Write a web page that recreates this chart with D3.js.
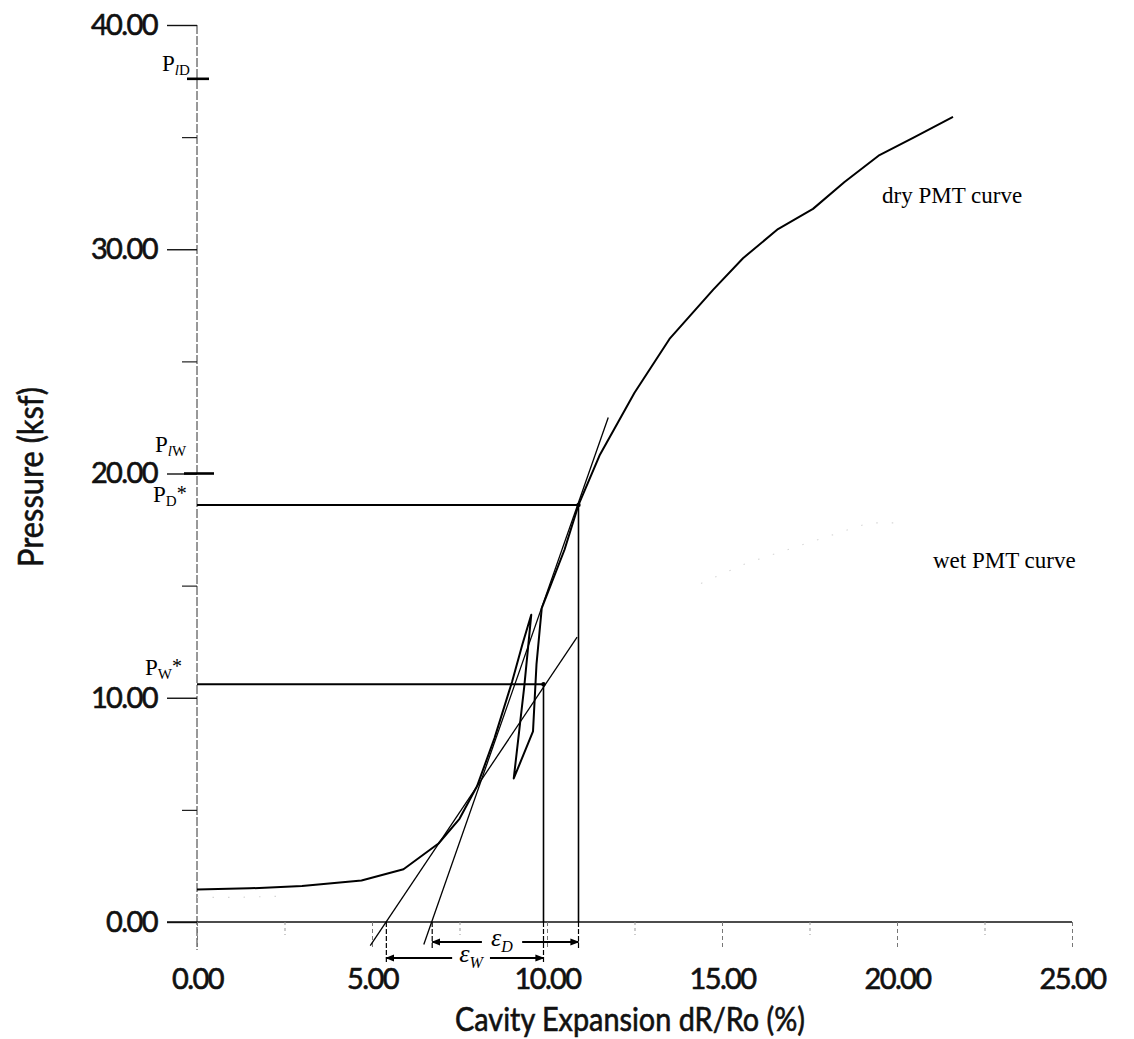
<!DOCTYPE html>
<html>
<head>
<meta charset="utf-8">
<script src="https://cdn.jsdelivr.net/npm/d3@7"></script>
<style>
  html, body { margin: 0; padding: 0; background: #fff; }
  svg { display: block; }
</style>
</head>
<body>
<svg id="chart" width="1134" height="1039"></svg>
<script>
// Pressuremeter test (PMT) curve: pressure vs. cavity expansion
const dryExpansion = [0, 1.5, 3.0, 4.7, 5.9, 6.9, 7.5, 8.0, 8.5, 9.0, 9.3, 9.55,
  9.35, 9.05, 9.6, 9.7, 9.85, 10.1, 10.5, 10.9, 11.5, 12.5, 13.5, 14.75, 15.6,
  16.6, 17.6, 18.5, 19.5, 20.5, 21.6];
const dryPressure = [1.45, 1.5, 1.6, 1.85, 2.35, 3.5, 4.6, 6.05, 8.2, 10.7, 12.4, 13.7,
  10.5, 6.4, 8.5, 11.5, 14.0, 15.0, 16.6, 18.6, 20.8, 23.6, 26.0, 28.2, 29.6,
  30.9, 31.8, 33.0, 34.2, 35.0, 35.9];

// faint traces of the wet curve (gaps where nothing is visible)
const wetExpansion = [0, 1.2, 2.4, null, 14.4, 15.7, 19.2, 20.1];
const wetPressure  = [1.1, 1.1, 1.15, null, 15.1, 16.0, 17.8, 17.8];

// tangent construction lines (expansion, pressure)
const dryTangentX = [6.48, 11.75];
const dryTangentP = [-1.0, 22.5];
const wetTangentX = [4.95, 10.86];
const wetTangentP = [-1.05, 12.7];

// characteristic pressures
const pStarDry = 18.6, xStarDry = 10.9;
const pStarWet = 10.6, xStarWet = 9.9;
const pLimitDry = 37.6, pLimitWet = 20.0;

// strain intervals (tangent intercept -> P* expansion)
const epsDry = [6.72, 10.9];
const epsWet = [5.41, 9.9];

const xMajorTicks = [0, 5, 10, 15, 20, 25];
const xMinorTicks = [2.5, 7.5, 12.5, 17.5, 22.5];
const yMajorTicks = [0, 10, 20, 30, 40];
const yMinorTicks = [5, 15, 25, 35];

const xTitle = "Cavity Expansion dR/Ro (%)";
const yTitle = "Pressure (ksf)";
const dryLabel = "dry PMT curve";
const wetLabel = "wet PMT curve";

const svg = d3.select("#chart");
const x = d3.scaleLinear().domain([0, 25]).range([197, 1072]);
const y = d3.scaleLinear().domain([0, 40]).range([922, 25]);

const sans = "Lato, 'Open Sans', sans-serif";
const serif = "'Liberation Serif', 'DejaVu Serif', serif";
const fmt = d3.format(".2f");

// arrowhead marker
const defs = svg.append("defs");
defs.append("marker")
  .attr("id", "arrow")
  .attr("viewBox", "0 0 10 10")
  .attr("refX", 9).attr("refY", 5)
  .attr("markerWidth", 9).attr("markerHeight", 9)
  .attr("markerUnits", "userSpaceOnUse")
  .attr("orient", "auto-start-reverse")
  .append("path").attr("d", "M0,1 L10,5 L0,9 Z").attr("fill", "#000");

// ---------- axes ----------
const y0 = y(0);

// y axis line (thin, broken) running slightly below zero
svg.append("line")
  .attr("x1", x(0)).attr("x2", x(0))
  .attr("y1", y(40)).attr("y2", y0 + 28)
  .attr("stroke", "#333").attr("stroke-width", 1)
  .attr("stroke-dasharray", "9,2");

const yAxis = svg.append("g").attr("transform", `translate(${x(0)},0)`)
  .call(d3.axisLeft(y).tickValues(yMajorTicks).tickSize(30).tickPadding(10).tickFormat(fmt));
yAxis.select(".domain").remove();
yAxis.selectAll(".tick line").attr("stroke", "#111").attr("stroke-width", 1.4);
yAxis.selectAll(".tick text")
  .attr("font-family", sans).attr("font-size", 29).attr("letter-spacing", -1.6)
  .attr("fill", "#111").attr("stroke", "#111").attr("stroke-width", 0.6);

const yMinor = svg.append("g").attr("transform", `translate(${x(0)},0)`)
  .call(d3.axisLeft(y).tickValues(yMinorTicks).tickSize(15).tickFormat(""));
yMinor.select(".domain").remove();
yMinor.selectAll(".tick line").attr("stroke", "#222").attr("stroke-width", 1.2);

// x axis line
svg.append("line")
  .attr("x1", x(0) - 30).attr("x2", x(25))
  .attr("y1", y0).attr("y2", y0)
  .attr("stroke", "#111").attr("stroke-width", 1.6);

const xAxis = svg.append("g").attr("transform", `translate(0,${y0})`)
  .call(d3.axisBottom(x).tickValues(xMajorTicks).tickSize(26).tickPadding(20).tickFormat(fmt));
xAxis.select(".domain").remove();
xAxis.selectAll(".tick line").attr("stroke", "#777").attr("stroke-width", 1)
  .attr("stroke-dasharray", "4,3");
xAxis.selectAll(".tick text")
  .attr("font-family", sans).attr("font-size", 29).attr("letter-spacing", -1.6)
  .attr("fill", "#111").attr("stroke", "#111").attr("stroke-width", 0.6);

const xMinor = svg.append("g").attr("transform", `translate(0,${y0})`)
  .call(d3.axisBottom(x).tickValues(xMinorTicks).tickSize(13).tickFormat(""));
xMinor.select(".domain").remove();
xMinor.selectAll(".tick line").attr("stroke", "#999").attr("stroke-width", 1)
  .attr("stroke-dasharray", "3,3");

// axis titles
svg.append("text")
  .attr("x", 455).attr("y", 1031)
  .attr("font-family", sans).attr("font-size", 32)
  .attr("textLength", 350).attr("lengthAdjust", "spacingAndGlyphs")
  .attr("fill", "#111").attr("stroke", "#111").attr("stroke-width", 0.6)
  .text(xTitle);

svg.append("text")
  .attr("transform", "translate(43,567) rotate(-90)")
  .attr("font-family", sans).attr("font-size", 34)
  .attr("textLength", 180).attr("lengthAdjust", "spacingAndGlyphs")
  .attr("fill", "#111").attr("stroke", "#111").attr("stroke-width", 0.6)
  .text(yTitle);

// ---------- curves ----------
const dryData = dryExpansion.map((d, i) => [d, dryPressure[i]]);
const wetData = wetExpansion.map((d, i) => [d, wetPressure[i]]);

const line = d3.line()
  .defined(d => d[0] !== null && d[1] !== null)
  .x(d => x(d[0])).y(d => y(d[1]));

svg.append("path").datum(wetData)
  .attr("d", line)
  .attr("fill", "none").attr("stroke", "#d6d6d6").attr("stroke-width", 1.1)
  .attr("stroke-dasharray", "1.5,14");

svg.append("path").datum(dryData)
  .attr("d", line)
  .attr("fill", "none").attr("stroke", "#000").attr("stroke-width", 2)
  .attr("stroke-linejoin", "round");

// tangent lines
[[dryTangentX, dryTangentP], [wetTangentX, wetTangentP]].forEach(([xs, ps]) => {
  svg.append("path").datum(xs.map((d, i) => [d, ps[i]]))
    .attr("d", line)
    .attr("fill", "none").attr("stroke", "#000").attr("stroke-width", 1.3);
});

// P* horizontal lines and drop lines
[[xStarDry, pStarDry], [xStarWet, pStarWet]].forEach(([xs, ps]) => {
  svg.append("line")
    .attr("x1", x(0)).attr("x2", x(xs))
    .attr("y1", y(ps)).attr("y2", y(ps))
    .attr("stroke", "#000").attr("stroke-width", 2);
  svg.append("line")
    .attr("x1", x(xs)).attr("x2", x(xs))
    .attr("y1", y(ps)).attr("y2", y0)
    .attr("stroke", "#000").attr("stroke-width", 1.6);
  svg.append("circle")
    .attr("cx", x(xs)).attr("cy", y(ps)).attr("r", 2.2).attr("fill", "#000");
});

// limit pressure marks on the y axis
[[pLimitDry, 10, 12], [pLimitWet, 13, 17]].forEach(([p, l, r]) => {
  svg.append("line")
    .attr("x1", x(0) - l).attr("x2", x(0) + r)
    .attr("y1", y(p)).attr("y2", y(p))
    .attr("stroke", "#000").attr("stroke-width", 2.6);
});

// ---------- strain interval arrows ----------
const epsRows = [
  { range: epsDry, dy: 20, gap: [8.14, 9.29], main: "ε", sub: "D" },
  { range: epsWet, dy: 36, gap: [7.29, 8.37], main: "ε", sub: "W" }
];

epsRows.forEach(r => {
  const yy = y0 + r.dy;
  // extension lines from the axis down to the arrow
  r.range.forEach(v => {
    svg.append("line")
      .attr("x1", x(v)).attr("x2", x(v))
      .attr("y1", y0).attr("y2", yy + 6)
      .attr("stroke", "#000").attr("stroke-width", 1.2)
      .attr("stroke-dasharray", "5,2");
  });
  svg.append("line")
    .attr("x1", x(r.gap[0])).attr("x2", x(r.range[0]))
    .attr("y1", yy).attr("y2", yy)
    .attr("stroke", "#000").attr("stroke-width", 1.8)
    .attr("marker-end", "url(#arrow)");
  svg.append("line")
    .attr("x1", x(r.gap[1])).attr("x2", x(r.range[1]))
    .attr("y1", yy).attr("y2", yy)
    .attr("stroke", "#000").attr("stroke-width", 1.8)
    .attr("marker-end", "url(#arrow)");
  const t = svg.append("text")
    .attr("x", (x(r.gap[0]) + x(r.gap[1])) / 2)
    .attr("y", yy + 4)
    .attr("text-anchor", "middle")
    .attr("font-family", serif).attr("font-style", "italic")
    .attr("font-size", 26).attr("fill", "#000");
  t.append("tspan").text(r.main);
  t.append("tspan").attr("font-size", 16).attr("dy", 6).text(r.sub);
});

// ---------- pressure labels ----------
const pLabels = [
  { x: 162, p: pLimitDry, dy: -8, parts: [["P", 0], ["l", 1, "italic"], ["D", 1]] },
  { x: 155, p: pLimitWet, dy: -22, parts: [["P", 0], ["l", 1, "italic"], ["W", 1]] },
  { x: 153, p: pStarDry, dy: -3, parts: [["P", 0], ["D", 1], ["*", 2]] },
  { x: 145, p: pStarWet, dy: -9, parts: [["P", 0], ["W", 1], ["*", 2]] }
];

pLabels.forEach(lb => {
  const t = svg.append("text")
    .attr("x", lb.x).attr("y", y(lb.p) + lb.dy)
    .attr("font-family", serif).attr("font-size", 23).attr("fill", "#000");
  let level = 0;
  lb.parts.forEach(([s, kind, style]) => {
    const ts = t.append("tspan").text(s);
    if (kind === 1) {
      ts.attr("font-size", 15).attr("dy", level === 0 ? 4 : 0);
      if (style) ts.attr("font-style", style);
      level = 1;
    } else if (kind === 2) {
      ts.attr("font-size", 20).attr("dy", level === 1 ? -6 : 0);
      level = 2;
    }
  });
});

// curve labels
svg.append("text")
  .attr("x", 882).attr("y", 203)
  .attr("font-family", serif).attr("font-size", 23).attr("fill", "#000")
  .text(dryLabel);
svg.append("text")
  .attr("x", 933).attr("y", 568)
  .attr("font-family", serif).attr("font-size", 23).attr("fill", "#000")
  .text(wetLabel);
</script>
</body>
</html>
